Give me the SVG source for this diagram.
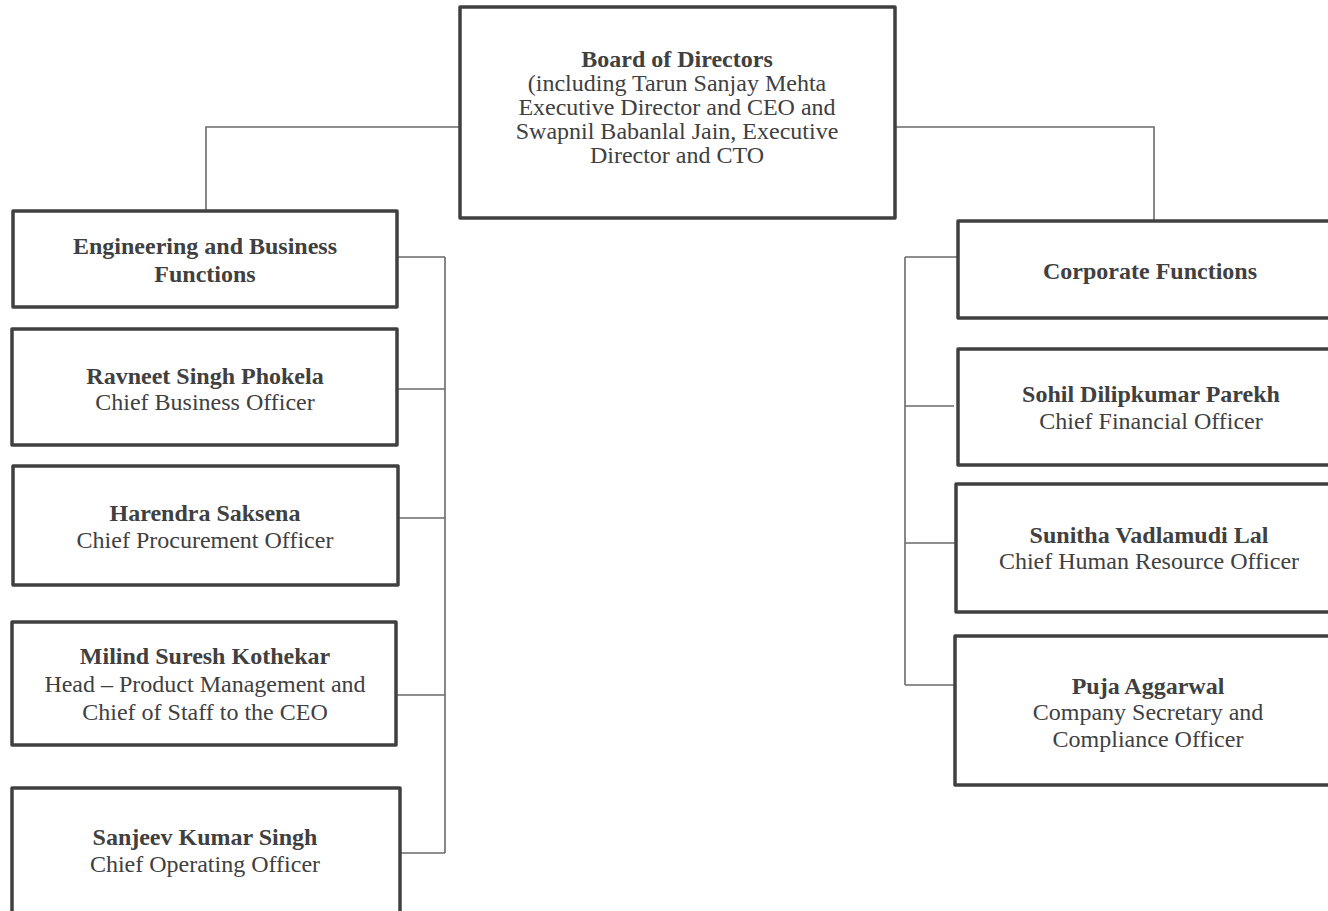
<svg xmlns="http://www.w3.org/2000/svg" width="1328" height="911" viewBox="0 0 1328 911">
<style>
.box{fill:#fff;stroke:#404040;stroke-width:3.5;stroke-linejoin:round}
.ln{fill:none;stroke:#6a6a6a;stroke-width:1.6}
text{font-family:"Liberation Serif","Times New Roman",serif;font-size:24px;fill:#404040;text-anchor:middle}
.b{font-weight:bold}
</style>
<rect width="1328" height="911" fill="#fff"/>
<g id="connectors">
<path class="ln" d="M459 127H206V210"/>
<path class="ln" d="M896 127H1154V220"/>
<path class="ln" d="M445 257V853M397 257H445M397 389H445M397 518H445M396 695H445M400 853H445"/>
<path class="ln" d="M905 257V685M905 257H958M905 406H954M905 543H956M905 685H955"/>
</g>
<g id="board">
<rect class="box" x="460" y="7" width="435" height="211"/>
<text x="677" y="67" class="b">Board of Directors</text>
<text x="677" y="91">(including Tarun Sanjay Mehta</text>
<text x="677" y="115">Executive Director and CEO and</text>
<text x="677" y="139">Swapnil Babanlal Jain, Executive</text>
<text x="677" y="163">Director and CTO</text>
</g>
<g id="eng">
<rect class="box" x="13" y="211" width="384" height="96"/>
<text x="205" y="254" class="b">Engineering and Business</text>
<text x="205" y="282" class="b">Functions</text>
</g>
<g id="ravneet">
<rect class="box" x="12" y="329" width="385" height="116"/>
<text x="205" y="384" class="b">Ravneet Singh Phokela</text>
<text x="205" y="410">Chief Business Officer</text>
</g>
<g id="harendra">
<rect class="box" x="13" y="466" width="385" height="119"/>
<text x="205" y="521" class="b">Harendra Saksena</text>
<text x="205" y="548">Chief Procurement Officer</text>
</g>
<g id="milind">
<rect class="box" x="12" y="622" width="384" height="123"/>
<text x="205" y="664" class="b">Milind Suresh Kothekar</text>
<text x="205" y="692">Head – Product Management and</text>
<text x="205" y="720">Chief of Staff to the CEO</text>
</g>
<g id="sanjeev">
<rect class="box" x="12" y="788" width="388" height="130"/>
<text x="205" y="845" class="b">Sanjeev Kumar Singh</text>
<text x="205" y="872">Chief Operating Officer</text>
</g>
<g id="corporate">
<rect class="box" x="958" y="221" width="390" height="97"/>
<text x="1150" y="279" class="b">Corporate Functions</text>
</g>
<g id="sohil">
<rect class="box" x="958" y="349" width="390" height="116"/>
<text x="1151" y="402" class="b">Sohil Dilipkumar Parekh</text>
<text x="1151" y="429">Chief Financial Officer</text>
</g>
<g id="sunitha">
<rect class="box" x="956" y="484" width="392" height="128"/>
<text x="1149" y="543" class="b">Sunitha Vadlamudi Lal</text>
<text x="1149" y="569">Chief Human Resource Officer</text>
</g>
<g id="puja">
<rect class="box" x="955" y="636" width="393" height="149"/>
<text x="1148" y="694" class="b">Puja Aggarwal</text>
<text x="1148" y="720">Company Secretary and</text>
<text x="1148" y="747">Compliance Officer</text>
</g>
</svg>
